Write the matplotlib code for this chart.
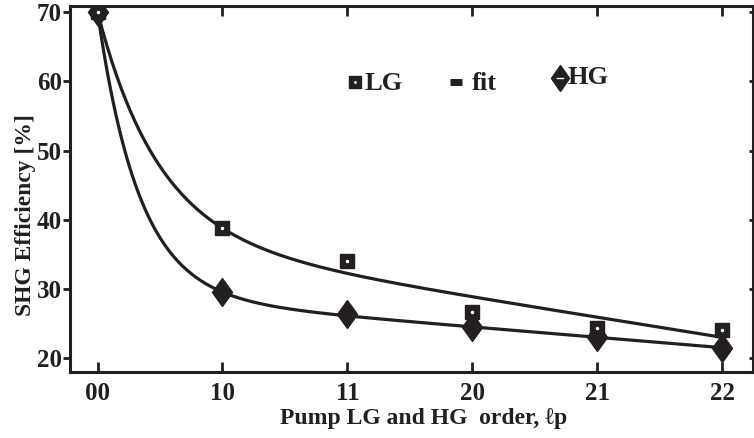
import numpy as np
import matplotlib
matplotlib.use("Agg")
import matplotlib.pyplot as plt
from matplotlib.markers import MarkerStyle
from matplotlib.transforms import Affine2D
from matplotlib.lines import TICKLEFT

# ---- data ----
categories = ["00", "10", "11", "20", "21", "22"]
lg_values = [70.0, 38.8, 34.1, 26.6, 24.4, 24.1]
hg_values = [70.0, 29.5, 26.4, 24.5, 23.1, 21.4]
y_ticks = [20, 30, 40, 50, 60, 70]

# fit parameters: y = A*exp(-k x) + B - C x
lg_fit = dict(A=32.5, k=2.05, B=37.5, C=2.9)
hg_fit = dict(A=41.0, k=3.0, B=29.0, C=1.5)

def fit_curve(x, A, k, B, C):
    return A * np.exp(-k * x) + B - C * x

INK = '#231f20'
plt.rcParams['font.family'] = ['Liberation Serif', 'DejaVu Serif']
plt.rcParams['font.weight'] = 'bold'

fig = plt.figure(figsize=(7.54, 4.38), dpi=100)
ax = fig.add_axes([0.093, 0.151, 0.906, 0.835])

x = np.arange(len(categories))
xf = np.linspace(0, len(categories) - 1, 400)
ax.plot(xf, fit_curve(xf, **lg_fit), color=INK, lw=2.3, zorder=2)
ax.plot(xf, fit_curve(xf, **hg_fit), color=INK, lw=2.3, zorder=2)

dmark = MarkerStyle('D', transform=Affine2D().scale(0.72, 1.0))
ax.plot(x, hg_values, linestyle='none', marker=dmark, ms=14, color=INK, zorder=3)
ax.plot(x, lg_values, linestyle='none', marker='s', ms=10, color=INK, zorder=4)
ax.plot(x, lg_values, linestyle='none', marker='o', ms=2.5, color='white', mec='none', zorder=5)

ax.set_xlim(-0.22, 5.25)
ax.set_ylim(18.0, 70.9)
ax.set_xticks(x)
ax.set_xticklabels(categories)
ax.set_yticks(y_ticks)

for s in ax.spines.values():
    s.set_linewidth(2.2)
    s.set_color(INK)

ax.tick_params(axis='x', which='both', direction='in', top=True, length=7, width=2, labelsize=18, pad=7, colors=INK)
ax.tick_params(axis='y', which='both', direction='out', length=5, width=2, labelsize=18, pad=1, colors=INK, right=True)
for tl in ax.yaxis.get_major_ticks():
    tl.tick2line.set_marker(TICKLEFT)
    tl.tick2line.set_markersize(3)

for lab in ax.get_xticklabels() + ax.get_yticklabels():
    lab.set_fontweight('bold')

ax.set_xlabel("Pump LG and HG  order, ℓp", fontsize=17, fontweight='bold', color=INK)
ax.set_ylabel("SHG Efficiency [%]", fontsize=17, fontweight='bold', color=INK)
ax.xaxis.set_label_coords(0.517, -0.1)
ax.yaxis.set_label_coords(-0.05, 0.43)

# legend drawn as markers + text in figure coordinates
fig.lines.append(plt.Line2D([0.471], [0.813], transform=fig.transFigure, marker='s', ms=8, color=INK, linestyle='none'))
fig.lines.append(plt.Line2D([0.471], [0.813], transform=fig.transFigure, marker='o', ms=2, color='white', mec='none', linestyle='none'))
fig.lines.append(plt.Line2D([0.597, 0.613], [0.813, 0.813], transform=fig.transFigure, color=INK, lw=5, solid_capstyle='butt'))
fig.lines.append(plt.Line2D([0.743], [0.823], transform=fig.transFigure, marker=dmark, ms=13, color=INK, linestyle='none'))
fig.lines.append(plt.Line2D([0.739, 0.747], [0.823, 0.823], transform=fig.transFigure, color='white', lw=1))
fig.text(0.484, 0.81, "LG", fontsize=19, fontweight='bold', color=INK, va='center')
fig.text(0.625, 0.81, "fit", fontsize=19, fontweight='bold', color=INK, va='center')
fig.text(0.753, 0.823, "HG", fontsize=19, fontweight='bold', color=INK, va='center')

fig.savefig("out.png", dpi=100)
